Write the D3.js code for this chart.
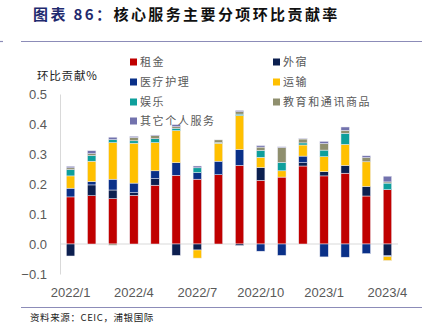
<!DOCTYPE html>
<html>
<head>
<meta charset="utf-8">
<script src="https://cdn.jsdelivr.net/npm/d3@7"></script>
<style>
  body { margin: 0; background: #fff; }
  svg { display: block; }
</style>
</head>
<body>
<div id="chart"></div>
<script>
/* global d3 */

// months on the x axis
var months = [ "2022/1", "2022/2", "2022/3", "2022/4", "2022/5", "2022/6", "2022/7", "2022/8",
  "2022/9", "2022/10", "2022/11", "2022/12", "2023/1", "2023/2", "2023/3", "2023/4" ];
var tickMonths = [ "2022/1", "2022/4", "2022/7", "2022/10", "2023/1", "2023/4" ];
var yTicks = [ -0.1, 0, 0.1, 0.2, 0.3, 0.4, 0.5 ];

// contribution by item
var rent      = [ 0.157, 0.161, 0.151, 0.162, 0.196, 0.229, 0.216, 0.231, 0.262, 0.212, 0.223, 0.260, 0.227, 0.236, 0.160, 0.181 ];
var lodging   = [ -0.040, 0.036, 0.029, 0.009, 0.022, -0.038, -0.020, 0, -0.005, 0.043, 0, 0.011, 0.014, 0.026, 0.032, -0.038 ];
var medical   = [ 0.029, 0.011, 0.036, 0.032, 0.026, 0.042, 0.022, 0.045, 0.053, -0.024, -0.038, 0.022, -0.043, -0.044, -0.032, -0.004 ];
var transport = [ 0.041, 0.068, 0.122, 0.133, 0.094, 0.107, -0.027, 0.060, 0.113, 0.034, 0.021, 0.037, 0.050, 0.070, 0.082, -0.013 ];
var leisure   = [ 0.021, 0.019, 0.010, 0.008, 0.013, 0.008, 0.016, 0.002, 0.005, 0.023, 0.028, 0.007, 0.022, 0.037, 0, 0.022 ];
var education = [ 0.006, 0.006, -0.004, 0.011, 0.010, 0.005, 0, 0.009, 0.008, 0.011, 0.050, 0.013, 0.022, 0.010, 0.014, 0.004 ];
var other     = [ 0.005, 0.010, 0.008, 0.004, 0.002, 0.007, 0.006, 0, 0.004, 0.005, 0.002, 0.002, 0.007, 0.011, 0.006, 0.019 ];

var seriesNames = [ "租金", "外宿", "医疗护理", "运输", "娱乐", "教育和通讯商品", "其它个人服务" ];
var seriesValues = [ rent, lodging, medical, transport, leisure, education, other ];
var seriesColors = [ "#c00000", "#0c1f4f", "#0a3088", "#ffc000", "#0e9f9c", "#8f8f6e", "#7272ad" ];

var W = 431, H = 327;
var cjk = "'Noto Sans CJK SC', sans-serif";
var latin = "'Liberation Sans', Arial, sans-serif";

var svg = d3.select( "#chart" ).append( "svg" )
  .attr( "width", W )
  .attr( "height", H );

// title
var title = svg.append( "text" )
  .attr( "x", 33 )
  .attr( "y", 20 )
  .style( "font-family", cjk )
  .style( "font-size", "15px" )
  .style( "font-weight", "bold" )
  .style( "letter-spacing", "2.4px" );
title.append( "tspan" ).style( "fill", "#1f2a6e" ).text( "图表 86：" );
title.append( "tspan" ).style( "fill", "#111" ).text( "核心服务主要分项环比贡献率" );

// rules top and bottom
svg.append( "line" )
  .attr( "x1", 21 ).attr( "x2", 422 ).attr( "y1", 41.5 ).attr( "y2", 41.5 )
  .style( "stroke", "#8c8cb8" ).style( "stroke-width", 1.2 );
svg.append( "line" )
  .attr( "x1", 0 ).attr( "x2", 3 ).attr( "y1", 41.5 ).attr( "y2", 41.5 )
  .style( "stroke", "#8c8cb8" ).style( "stroke-width", 1.2 );
svg.append( "line" )
  .attr( "x1", 21 ).attr( "x2", 422 ).attr( "y1", 307.5 ).attr( "y2", 307.5 )
  .style( "stroke", "#8c8cb8" ).style( "stroke-width", 1.2 );

svg.append( "text" )
  .attr( "x", 30 )
  .attr( "y", 321 )
  .style( "font-family", cjk )
  .style( "font-size", "9.5px" )
  .style( "letter-spacing", "0.6px" )
  .style( "fill", "#222" )
  .text( "资料来源：CEIC，浦银国际" );

// scales
var x = d3.scaleBand()
  .domain( months )
  .range( [ 60, 398 ] )
  .paddingInner( 0.6 )
  .paddingOuter( 0.3 );

var y = d3.scaleLinear()
  .domain( [ -0.1, 0.5 ] )
  .range( [ 274, 94 ] );

// axes
var yAxis = svg.append( "g" )
  .attr( "transform", "translate(60,0)" )
  .call( d3.axisLeft( y ).tickValues( yTicks ).tickFormat( d3.format( ".1f" ) ).tickSize( 0 ).tickPadding( 13 ) );
yAxis.select( ".domain" ).style( "stroke", "#d9d9d9" );
yAxis.selectAll( "text" )
  .style( "font-family", latin )
  .style( "font-size", "13px" )
  .style( "fill", "#595959" );

svg.append( "line" )
  .attr( "x1", 60 ).attr( "x2", 398 )
  .attr( "y1", y( 0 ) ).attr( "y2", y( 0 ) )
  .style( "stroke", "#d9d9d9" );

var xAxis = svg.append( "g" )
  .attr( "transform", "translate(0,285)" )
  .call( d3.axisBottom( x ).tickValues( tickMonths ).tickSize( 0 ).tickPadding( 3 ) );
xAxis.select( ".domain" ).remove();
xAxis.selectAll( "text" )
  .style( "font-family", latin )
  .style( "font-size", "13px" )
  .style( "fill", "#595959" );

svg.append( "text" )
  .attr( "x", 37 )
  .attr( "y", 80 )
  .style( "font-family", cjk )
  .style( "font-size", "11.5px" )
  .style( "letter-spacing", "0.8px" )
  .style( "fill", "#222" )
  .text( "环比贡献%" );

// stacked bars, positives up and negatives down
var table = months.map( function( m, i ) {
  var row = { month: m };
  seriesNames.forEach( function( s, j ) { row[ s ] = seriesValues[ j ][ i ]; } );
  return row;
} );

var stack = d3.stack()
  .keys( seriesNames )
  .offset( d3.stackOffsetDiverging );

var layers = svg.append( "g" ).selectAll( "g" )
  .data( stack( table ) )
  .enter()
  .append( "g" )
    .style( "fill", ( d, i ) => seriesColors[ i ] );

layers.selectAll( "rect" )
  .data( d => d.filter( p => p[ 1 ] !== p[ 0 ] ) )
  .enter()
  .append( "rect" )
    .attr( "x", d => x( d.data.month ) )
    .attr( "y", d => y( Math.max( d[ 0 ], d[ 1 ] ) ) )
    .attr( "width", x.bandwidth() )
    .attr( "height", d => Math.abs( y( d[ 0 ] ) - y( d[ 1 ] ) ) )
    .style( "stroke", "#ececf4" )
    .style( "stroke-width", 0.5 );

// legend, two columns
var legendPos = [ [ 130, 62 ], [ 273, 62 ], [ 130, 82 ], [ 273, 82 ], [ 130, 102 ], [ 273, 102 ], [ 130, 121 ] ];

var legend = svg.append( "g" ).selectAll( "g" )
  .data( seriesNames )
  .enter()
  .append( "g" )
    .attr( "transform", ( d, i ) => "translate(" + legendPos[ i ][ 0 ] + "," + legendPos[ i ][ 1 ] + ")" );

legend.append( "rect" )
  .attr( "x", 0 )
  .attr( "y", -3.5 )
  .attr( "width", 7 )
  .attr( "height", 7 )
  .style( "fill", ( d, i ) => seriesColors[ i ] );

legend.append( "text" )
  .attr( "x", 10 )
  .attr( "y", 4 )
  .style( "font-family", cjk )
  .style( "font-size", "11px" )
  .style( "letter-spacing", "1.6px" )
  .style( "fill", "#595959" )
  .text( d => d );
</script>
</body>
</html>
